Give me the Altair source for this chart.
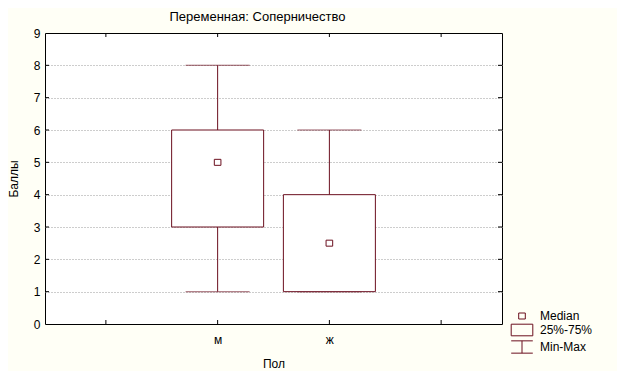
import altair as alt
import pandas as pd

# ---- data ----
categories = ["м", "ж"]
positions = [1, 2]
mins = [1, 1]
q1s = [3, 1]
medians = [5, 2.5]
q3s = [6, 4]
maxs = [8, 6]
legend_labels = ["Median", "25%-75%", "Min-Max"]
x_tick_positions = [0, 1, 2, 3]
y_ticks = [0, 1, 2, 3, 4, 5, 6, 7, 8, 9]

C = "#6b0f1f"
FONT = "Liberation Sans"
W, H = 457, 291

df = pd.DataFrame({
    "cat": categories, "pos": positions, "min": mins, "q1": q1s,
    "median": medians, "q3": q3s, "max": maxs,
    "lbl": ["Median"] * len(categories),
})

paths = [
    "M-0.66,-0.6H0.66V0.6H-0.66Z",
    "M-2.16,-1.16H2.16V1.16H-2.16Z",
    "M-2.16,-1.23H2.16M0,-1.23V1.23M-2.16,1.23H2.16",
]

xscale = alt.Scale(domain=[-0.5, 3.5], nice=False, zero=False)
yscale = alt.Scale(domain=[0, 9], nice=False, zero=True)

xaxis = alt.Axis(
    title="Пол", values=x_tick_positions,
    labelExpr="datum.value == 1 ? 'м' : datum.value == 2 ? 'ж' : ''",
    ticks=False, domain=False, grid=False,
    labelPadding=10, titlePadding=13, labelFontSize=12, titleFontSize=12,
    titleFontWeight="normal", labelColor="black", titleColor="black",
    labelFont=FONT, titleFont=FONT,
)
yaxis = alt.Axis(
    title="Баллы", values=y_ticks, ticks=False, domain=False, grid=True,
    gridDash=[1, 2], gridColor="#9a9a9a",
    gridOpacity={"condition": {"test": "datum.value == 0 || datum.value == 9", "value": 0}, "value": 1},
    labelPadding=5, titlePadding=13, labelFontSize=12, titleFontSize=12,
    titleFontWeight="normal", labelColor="black", titleColor="black",
    labelFont=FONT, titleFont=FONT,
)


def X(f):
    return alt.X(f, scale=xscale, axis=xaxis)


def Y(f):
    return alt.Y(f, scale=yscale, axis=yaxis)


base = alt.Chart(df)

upper = base.mark_rule(color=C, strokeWidth=1).encode(x=X("pos:Q"), y=Y("q3:Q"), y2="max:Q")
lower = base.mark_rule(color=C, strokeWidth=1).encode(x=X("pos:Q"), y=Y("min:Q"), y2="q1:Q")
cap_max = base.mark_tick(color=C, orient="horizontal", size=64, thickness=1).encode(x=X("pos:Q"), y=Y("max:Q"))
cap_min = base.mark_tick(color=C, orient="horizontal", size=64, thickness=1).encode(x=X("pos:Q"), y=Y("min:Q"))
box = base.mark_bar(size=92, fill="white", stroke=C, strokeWidth=1).encode(
    x=X("pos:Q"), y=Y("q1:Q"), y2="q3:Q")
med = base.mark_point(filled=False, color=C, size=100, strokeWidth=1, opacity=1).encode(
    x=X("pos:Q"), y=Y("median:Q"),
    shape=alt.Shape(
        "lbl:N",
        scale=alt.Scale(domain=legend_labels, range=paths),
        legend=alt.Legend(
            title=None, orient="none", legendX=471, legendY=277,
            symbolSize=100, symbolStrokeWidth=1, symbolStrokeColor=C,
            symbolFillColor="transparent", labelFontSize=12, labelOffset=12,
            rowPadding=0, padding=0, labelFont=FONT, labelColor="black",
        ),
    ),
)

xt = pd.DataFrame({"v": x_tick_positions})
yt = pd.DataFrame({"v": y_ticks[1:-1]})
tick_bottom = alt.Chart(xt).mark_rule(color="black").encode(
    x=X("v:Q"), y=alt.value(H), y2=alt.value(H - 4))
tick_top = alt.Chart(xt).mark_rule(color="black").encode(
    x=X("v:Q"), y=alt.value(0), y2=alt.value(4))
tick_left = alt.Chart(yt).mark_rule(color="black").encode(
    y=Y("v:Q"), x=alt.value(0), x2=alt.value(4))
tick_right = alt.Chart(yt).mark_rule(color="black").encode(
    y=Y("v:Q"), x=alt.value(W - 4), x2=alt.value(W))

chart = alt.layer(
    tick_bottom, tick_top, tick_left, tick_right,
    upper, lower, cap_max, cap_min, box, med,
).properties(
    width=W, height=H,
    autosize=alt.AutoSizeParams(type="none"),
    padding={"left": 37, "top": 25, "right": 115, "bottom": 47},
    background="#fffff6",
    title=alt.TitleParams(
        "Переменная: Соперничество", fontSize=13, fontWeight="normal",
        font=FONT, color="black", offset=3, anchor="middle", dx=-16,
    ),
).configure_view(
    stroke="black", strokeWidth=1, fill="white",
)

chart.save("out.html", embed_options={"renderer": "svg", "actions": False})
